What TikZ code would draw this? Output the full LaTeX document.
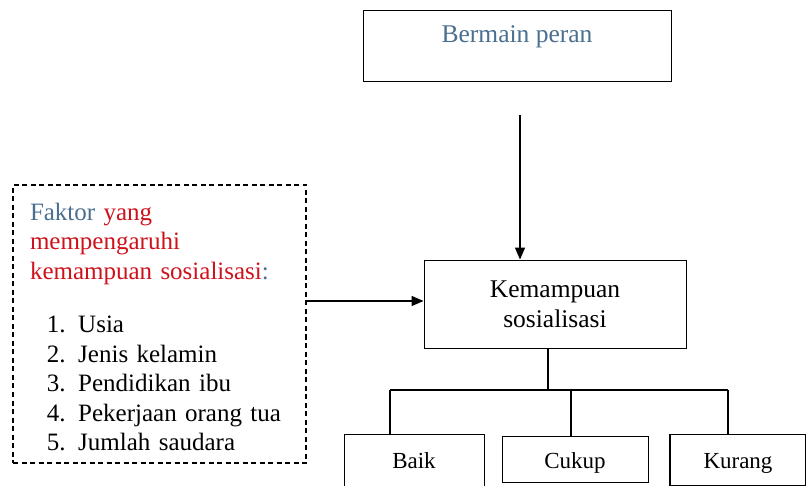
\documentclass[tikz,border=0pt]{standalone}
\usepackage{fontspec}
\setmainfont{Liberation Serif}
\usepackage{xcolor}
\usetikzlibrary{arrows.meta,positioning}
\definecolor{slateblue}{RGB}{74,111,143}
\definecolor{factorred}{RGB}{206,18,28}
\tikzset{
	box/.style={draw, line width=0.9pt, inner sep=0pt, align=center, font=\fontsize{25.5}{30}\selectfont},
	dashbox/.style={draw, dashed, dash pattern=on 5pt off 3.5pt, line width=1.1pt, inner xsep=17pt, inner ysep=0pt, align=left, font=\fontsize{25}{29.5}\selectfont},
	leaf/.style={draw, line width=0.9pt, inner sep=0pt, align=center, font=\fontsize{23}{25}\selectfont},
	flow/.style={-{Triangle[length=12pt, width=10pt]}, line width=1.5pt},
	branch/.style={line width=1.3pt}
}
\begin{document}
\begin{tikzpicture}[x=1pt, y=-1pt]
	\useasboundingbox (0,0) rectangle (806,486);
	\node[box, text=slateblue, minimum width=308pt, text height=32pt, text depth=39pt] (bermain) at (517,10) [anchor=north] {Bermain peran};
	\node[box, minimum width=262pt, minimum height=88pt] (kemampuan) at (555,304) {Kemampuan\\sosialisasi};
	\node[dashbox, minimum width=293pt, minimum height=278pt, text width=259pt] (faktor) at (159.5,324) {%
		\mbox{}\\[-6.5pt]
		\textcolor{slateblue}{Faktor} \textcolor{factorred}{yang}\\
		\textcolor{factorred}{mempengaruhi}\\
		\textcolor{factorred}{kemampuan sosialisasi}\textcolor{slateblue}{:}\\[24pt]
		\hspace*{17pt}1. Usia\\
		\hspace*{17pt}2. Jenis kelamin\\
		\hspace*{17pt}3. Pendidikan ibu\\
		\hspace*{17pt}4. Pekerjaan orang tua\\
		\hspace*{17pt}5. Jumlah saudara};
	% hasil
	\node[leaf, minimum width=140pt, text height=34pt, text depth=26pt] (baik) at (414,434) [anchor=north] {Baik};
	\node[leaf, minimum width=146pt, text height=32pt, text depth=14pt] (cukup) at (575,436) [anchor=north] {Cukup};
	\node[leaf, line width=1.4pt, minimum width=136pt, text height=34pt, text depth=17pt] (kurang) at (738,434) [anchor=north] {Kurang};
	% penghubung
	\coordinate (feed) at (520,115);
	\coordinate (fork) at (548,390);
	\coordinate (forkL) at (390,390);
	\coordinate (forkM) at (571,390);
	\coordinate (forkR) at (728,390);
	\draw[flow] (feed) -- (feed |- kemampuan.north);
	\draw[flow] (faktor.east |- 0,301) -- (kemampuan.west |- 0,301);
	\draw[branch] (fork |- kemampuan.south) -- (fork);
	\draw[branch] (forkL) -- (forkR);
	\draw[branch] (forkL) -- (forkL |- baik.north);
	\draw[branch] (forkM) -- (forkM |- cukup.north);
	\draw[branch] (forkR) -- (forkR |- kurang.north);
\end{tikzpicture}
\end{document}
